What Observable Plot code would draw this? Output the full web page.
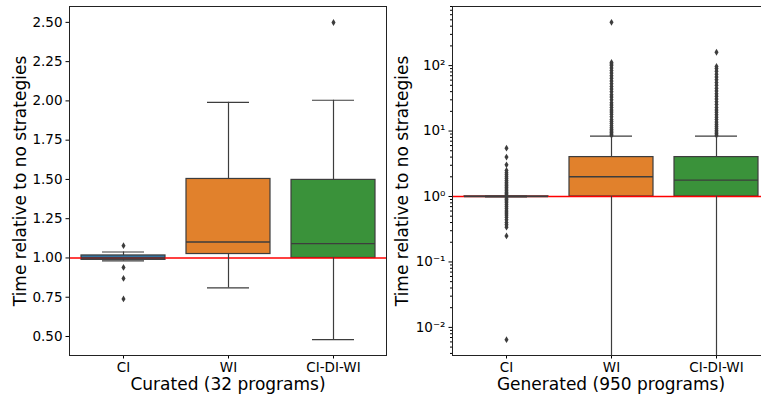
<!DOCTYPE html>
<html><head><meta charset="utf-8">
<script src="https://cdn.jsdelivr.net/npm/d3@7"></script>
<script src="https://cdn.jsdelivr.net/npm/@observablehq/plot@0.6"></script>
<style>
html,body{margin:0;padding:0;background:#fff;overflow:hidden;}
#wrap{width:761px;height:399px;overflow:hidden;position:relative;background:#fff;}
#left{position:absolute;left:0;top:0;width:390px;height:399px;}
#right{position:absolute;left:390px;top:0;width:390px;height:399px;}
#wrap svg{max-width:none !important;}
</style></head>
<body><div id="wrap"><div id="left"></div><div id="right"></div></div>
<script>
// ---- data ----
const categories = ["CI", "WI", "CI-DI-WI"];
const boxColors = ["#3274a1", "#e1812c", "#3a923a"];
const yLabel = "Time relative to no strategies";

// Curated (32 programs)
const curatedLabel = "Curated (32 programs)";
const curQ1  = [0.988, 1.025, 1.000];
const curMed = [1.000, 1.102, 1.091];
const curQ3  = [1.016, 1.503, 1.497];
const curLo  = [0.981, 0.809, 0.480];
const curHi  = [1.038, 1.991, 2.004];
const curOutCI = [1.078, 0.940, 0.870, 0.739];
const curOutWI = [];
const curOutCDW = [2.499];
const curTicks = [0.50, 0.75, 1.00, 1.25, 1.50, 1.75, 2.00, 2.25, 2.50];
const curDomain = [0.379, 2.601];

// Generated (950 programs)
const generatedLabel = "Generated (950 programs)";
const genQ1  = [0.995, 1.0, 1.0];
const genMed = [1.000, 2.0, 1.78];
const genQ3  = [1.005, 4.0, 4.0];
const genLo  = [0.990, 0.001, 0.001];
const genHi  = [1.010, 8.36, 8.36];
const genOutCI = [0.0065, 0.25, 0.34, 0.37, 0.40, 0.44, 0.48, 0.52, 0.56, 0.60, 0.65, 0.70, 0.75, 0.80, 0.85, 0.90, 0.95,
  1.05, 1.10, 1.16, 1.22, 1.30, 1.38, 1.46, 1.55, 1.65, 1.76, 1.88, 2.00, 2.15, 2.30, 2.50, 3.05, 4.00, 5.47];
const genOutWI = [8.6, 9.0, 9.5, 10, 10.6, 11.2, 12, 13, 14, 15, 16.5, 18, 19.5, 21, 23, 25, 27, 30, 33, 36, 40, 44,
  48, 53, 58, 64, 70, 77, 84, 92, 100, 106, 112, 458];
const genOutCDW = [8.6, 9.1, 9.7, 10.3, 11, 11.8, 12.7, 13.7, 15, 16.3, 17.8, 19.4, 21, 23, 25.5, 28, 31, 34, 37, 41,
  45, 50, 55, 61, 67, 74, 82, 90, 97, 160];
const genMajorTicks = [0.01, 0.1, 1, 10, 100];
const genTickLabels = ["10\u207B\u00B2", "10\u207B\u00B9", "10\u2070", "10\u00B9", "10\u00B2"];
const genDomain = [0.00372, 800];

// ---- helpers ----
const lineColor = "#3d3d3d";
const thinDiamond = {
  draw(ctx, size) {
    const r = Math.sqrt(size / Math.PI);
    ctx.moveTo(0, -r); ctx.lineTo(0.6 * r, 0); ctx.lineTo(0, r); ctx.lineTo(-0.6 * r, 0); ctx.closePath();
  }
};
function boxRows(q1, med, q3, lo, hi) {
  return categories.map((c, i) => ({cat: c, q1: q1[i], med: med[i], q3: q3[i], lo: lo[i], hi: hi[i]}));
}
function outRows(lists) {
  return lists.flatMap((arr, i) => arr.map(v => ({cat: categories[i], v})));
}

function panel({boxes, outliers, yScale, axisMarks, xLabel, marginLeft, marginRight, labelOffset, clip}) {
  return Plot.plot({
    width: marginLeft + 317 + marginRight,
    height: 399,
    marginTop: 6,
    marginBottom: 44,
    marginLeft, marginRight,
    style: {fontFamily: "DejaVu Sans, sans-serif", fontSize: "13.5px", color: "#000", background: "transparent", maxWidth: "none"},
    x: {type: "band", domain: categories, paddingInner: 0.2, paddingOuter: 0.1, align: 0.5, axis: null},
    y: {...yScale, axis: null},
    color: {domain: categories, range: boxColors},
    marks: [
      Plot.barY(boxes, {x: "cat", y1: "q1", y2: "q3", fill: "cat", stroke: lineColor, strokeWidth: 1.2, clip}),
      Plot.ruleY([1], {stroke: "#ff0000", strokeWidth: 1.4}),
      Plot.ruleX(boxes, {x: "cat", y1: "lo", y2: "q1", stroke: lineColor, strokeWidth: 1.2, clip}),
      Plot.ruleX(boxes, {x: "cat", y1: "q3", y2: "hi", stroke: lineColor, strokeWidth: 1.2, clip}),
      Plot.tickY(boxes, {x: "cat", y: "lo", inset: 21, stroke: lineColor, strokeWidth: 1.2, clip}),
      Plot.tickY(boxes, {x: "cat", y: "hi", inset: 21, stroke: lineColor, strokeWidth: 1.2, clip}),
      Plot.tickY(boxes, {x: "cat", y: "med", stroke: lineColor, strokeWidth: 1.4}),
      Plot.dot(outliers, {x: "cat", y: "v", symbol: thinDiamond, r: 3.4, fill: lineColor, stroke: null}),
      ...axisMarks,
      Plot.axisX({tickSize: 3.5, tickPadding: 3.5, label: null}),
      Plot.frame({stroke: "#222", strokeWidth: 1}),
      Plot.text([yLabel], {frameAnchor: "left", dx: -labelOffset, rotate: -90, lineAnchor: "top", textAnchor: "middle", fontSize: 17, fill: "#000"}),
      Plot.text([xLabel], {frameAnchor: "bottom", dy: 22, lineAnchor: "top", textAnchor: "middle", fontSize: 17, fill: "#000"})
    ]
  });
}

// ---- left panel ----
const left = panel({
  boxes: boxRows(curQ1, curMed, curQ3, curLo, curHi),
  outliers: outRows([curOutCI, curOutWI, curOutCDW]),
  yScale: {type: "linear", domain: curDomain},
  axisMarks: [Plot.axisY({ticks: curTicks, tickFormat: d3.format(".2f"), tickSize: 3.5, tickPadding: 3.5, label: null})],
  xLabel: curatedLabel,
  marginLeft: 69, marginRight: 4, labelOffset: 56, clip: false
});
document.getElementById("left").appendChild(left);

// ---- right panel ----
const minorTicks = d3.scaleLog().domain(genDomain).ticks()
  .filter(t => Math.abs(Math.log10(t) - Math.round(Math.log10(t))) > 1e-6);
const right = panel({
  boxes: boxRows(genQ1, genMed, genQ3, genLo, genHi),
  outliers: outRows([genOutCI, genOutWI, genOutCDW]),
  yScale: {type: "log", domain: genDomain},
  axisMarks: [
    Plot.axisY({ticks: minorTicks, tickFormat: null, text: null, tickSize: 2, label: null}),
    Plot.axisY({ticks: genMajorTicks, tickFormat: d => genTickLabels[genMajorTicks.findIndex(t => Math.abs(t - d) < 1e-9)], tickSize: 3.5, tickPadding: 3.5, label: null})
  ],
  xLabel: generatedLabel,
  marginLeft: 62, marginRight: 11, labelOffset: 57, clip: true
});
document.getElementById("right").appendChild(right);
</script>
</body></html>
